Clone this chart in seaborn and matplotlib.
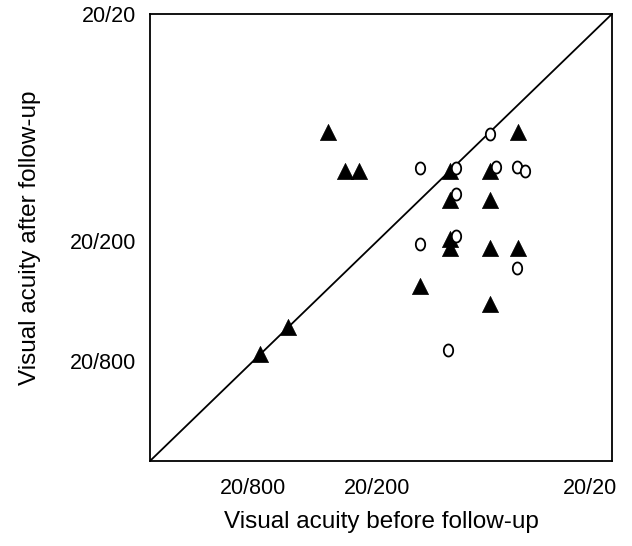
import numpy as np
import pandas as pd
import seaborn as sns
import matplotlib.pyplot as plt
from matplotlib.path import Path
from matplotlib.transforms import ScaledTranslation

# acuity in logMAR-like axis units: 20/20 = 0, 20/200 = 1, 20/800 ~ 1.53
# ---- filled triangles ----
tri_before = [1.21, 1.14, 1.08, 0.69, 0.52, 0.40, 0.69, 0.52,
              0.69, 0.69, 0.52, 0.40, 0.82, 0.52, 1.38, 1.50]
tri_after = [0.52, 0.69, 0.69, 0.69, 0.69, 0.52, 0.82, 0.82,
             0.99, 1.03, 1.03, 1.03, 1.20, 1.28, 1.38, 1.50]
# ---- open circles ----
circ_before = [0.52, 0.82, 0.665, 0.495, 0.405, 0.37, 0.665, 0.665, 0.82, 0.405, 0.70]
circ_after = [0.53, 0.68, 0.68, 0.675, 0.673, 0.69, 0.795, 0.977, 1.015, 1.12, 1.48]

tick_pos = [1.53, 1.0, 0.0]
tick_labels = ["20/800", "20/200", "20/20"]
axis_max = 1.97

df = pd.DataFrame({
    "before": tri_before + circ_before,
    "after": tri_after + circ_after,
    "group": ["tri"] * len(tri_before) + ["circ"] * len(circ_before),
})

sns.set_style("white")
plt.rcParams["font.family"] = ["Liberation Sans", "DejaVu Sans"]
plt.rcParams.update({"text.color": "black", "axes.labelcolor": "black",
                     "xtick.color": "black", "ytick.color": "black"})

# slightly tall open "o" like the printed figure
t = np.linspace(0, 2 * np.pi, 40)
oval = Path(np.column_stack([0.78 * np.cos(t), np.sin(t)]), closed=True)

fig = plt.figure(figsize=(6.32, 5.46), dpi=100)
ax = fig.add_axes([0.2373, 0.1557, 0.7310, 0.8187])

# diagonal line of no change
ax.plot([axis_max, 0], [axis_max, 0], color="black", lw=1.3, zorder=1)

sns.scatterplot(data=df[df.group == "circ"], x="before", y="after", marker=oval,
                s=75, facecolor="white", edgecolor="black", linewidth=1.3,
                ax=ax, zorder=3, legend=False)
sns.scatterplot(data=df[df.group == "tri"], x="before", y="after", marker="^",
                s=135, color="black", edgecolor="black", linewidth=0.5,
                ax=ax, zorder=2, legend=False)

ax.set_xlim(axis_max, 0)
ax.set_ylim(axis_max, 0)
ax.set_xticks(tick_pos)
ax.set_xticklabels(tick_labels, fontsize=15.5)
ax.set_yticks(tick_pos)
ax.set_yticklabels(tick_labels, fontsize=15.5)
ax.tick_params(axis="x", direction="in", length=9.5, width=1.2, pad=12)
ax.tick_params(axis="y", direction="in", length=7.7, width=1.2, pad=10)

for sp in ax.spines.values():
    sp.set_visible(True)
    sp.set_color("black")
    sp.set_linewidth(1.3)

# last x label sits left of the corner
lab = ax.xaxis.get_major_ticks()[-1].label1
lab.set_horizontalalignment("right")
lab.set_transform(lab.get_transform() + ScaledTranslation(0.05, 0, fig.dpi_scale_trans))

ax.set_xlabel("Visual acuity before follow-up", fontsize=17.5, labelpad=9)
ax.set_ylabel("Visual acuity after follow-up", fontsize=17.5, labelpad=21)

fig.savefig("out.png", dpi=100, facecolor="white")
